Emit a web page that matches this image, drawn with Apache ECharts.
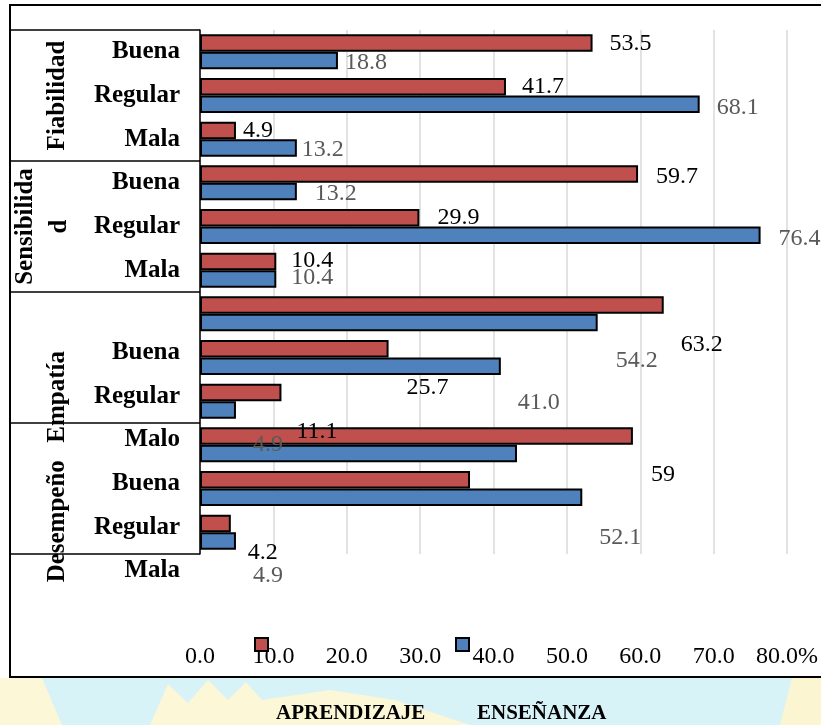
<!DOCTYPE html>
<html>
<head>
<meta charset="utf-8">
<script src="https://cdn.jsdelivr.net/npm/echarts@6/dist/echarts.min.js"></script>
<style>
  html, body { margin: 0; padding: 0; background: #ffffff; }
  #chart { width: 821px; height: 725px; }
</style>
</head>
<body>
<div id="chart"></div>
<script>
// Series names (legend)
const seriesNames = ['APRENDIZAJE', 'ENSEÑANZA'];

// Dimension groups, each spanning three rows of the label column
const dimensionNames = ['Fiabilidad', 'Sensibilida\nd', 'Empatía', 'Desempeño'];

// Bar rows (one pair of bars per row)
const rowKeys = ['r1', 'r2', 'r3', 'r4', 'r5', 'r6', 'r7', 'r8', 'r9', 'r10', 'r11', 'r12'];

// Level labels printed in the label column
const levelLabels = ['Buena', 'Regular', 'Mala', 'Buena', 'Regular', 'Mala', '',
                     'Buena', 'Regular', 'Malo', 'Buena', 'Regular', 'Mala'];

// Percentages, as printed
const aprendizaje = ['53.5', '41.7', '4.9', '59.7', '29.9', '10.4', '63.2', '25.7', '11.1', '59', '36.8', '4.2'];
const ensenanza   = ['18.8', '68.1', '13.2', '13.2', '76.4', '10.4', '54.2', '41.0', '4.9', '43.2', '52.1', '4.9'];

// Rows whose value carries no printed label
const unlabeledAprendizaje = [10];
const unlabeledEnsenanza = [9];

// Axis ticks
const xTicks = [0, 10, 20, 30, 40, 50, 60, 70, 80];

// ---- layout & styling -------------------------------------------------
const FONT = 'Liberation Serif';
const RED = '#C0504D';
const BLUE = '#4F81BD';
const GRID_LEFT = 200, GRID_TOP = 30, GRID_W = 589, GRID_H = 524;
const SLOT = GRID_H / rowKeys.length;

// label shifts [dx, dy] from the bar end
const redLabelShift  = [[17, 1], [16, 0], [7, 0], [18, 3], [18, 0], [15, -1], [17, 40], [18, 39], [15, 39], [18, 39], [0, 0], [17, 29]];
const blueLabelShift = [[7, 2], [17, 3], [5, 2], [18, 2], [18, 3], [15, -1], [18, 38], [17, 36], [17, 35], [0, 0], [17, 40], [17, 35]];

// group label centres, in row units from the top of the plot
const groupCentres = [1.5, 4.5, 8.4, 11.25];
const groupX = [58, 43, 58, 58];

function buildData(values, hidden, shifts, color) {
  return values.map((v, i) => ({
    value: Number(v),
    label: {
      show: hidden.indexOf(i) < 0,
      offset: shifts[i],
      color: color
    }
  }));
}

const chart = echarts.init(document.getElementById('chart'), null, { renderer: 'canvas' });

const graphics = [];
// light strip under the frame
graphics.push({ type: 'rect', z: -10, shape: { x: 0, y: 678, width: 821, height: 47 }, style: { fill: '#d8f3f8' } });
graphics.push({ type: 'polygon', z: -9, shape: { points: [[0, 678], [42, 678], [62, 725], [0, 725]] }, style: { fill: '#fcf7d6' } });
graphics.push({ type: 'polygon', z: -9, shape: { points: [[150, 725], [168, 684], [188, 703], [208, 680], [228, 700], [246, 682], [262, 700], [330, 690], [395, 700], [470, 725]] }, style: { fill: '#fcf7d6' } });
graphics.push({ type: 'polygon', z: -9, shape: { points: [[780, 725], [792, 678], [821, 678], [821, 725]] }, style: { fill: '#fcf5d2' } });
// outer frame
graphics.push({ type: 'rect', z: 5, shape: { x: 10, y: 5, width: 830, height: 672 }, style: { fill: null, stroke: '#000', lineWidth: 2 } });
// label column rules
for (let k = 0; k <= 4; k++) {
  const y = Math.round(GRID_TOP + 3 * k * SLOT);
  graphics.push({ type: 'line', z: 5, shape: { x1: 10, y1: y, x2: GRID_LEFT, y2: y }, style: { stroke: '#000', lineWidth: 1.5 } });
}
// dimension names, reading upwards
dimensionNames.forEach((name, i) => {
  graphics.push({
    type: 'text', z: 6,
    x: groupX[i], y: GRID_TOP + groupCentres[i] * SLOT,
    rotation: Math.PI / 2,
    style: { text: name, x: 0, y: 0, align: 'center', verticalAlign: 'middle',
             font: 'bold 25px "' + FONT + '"', fill: '#000', lineHeight: 34 }
  });
});

const option = {
  backgroundColor: '#ffffff',
  animation: false,
  grid: [
    { left: GRID_LEFT, top: GRID_TOP, width: GRID_W, height: GRID_H },
    { left: GRID_LEFT, top: GRID_TOP, width: 1, height: SLOT * levelLabels.length }
  ],
  xAxis: [
    {
      type: 'value', gridIndex: 0, min: 0, max: 80, interval: 10,
      axisLine: { show: false }, axisTick: { show: false },
      splitLine: { show: true, lineStyle: { color: '#d9d9d9', width: 1.5 } },
      axisLabel: {
        margin: 91, color: '#000', fontFamily: FONT, fontSize: 24,
        formatter: v => (v === xTicks[xTicks.length - 1] ? v.toFixed(1) + '%' : v.toFixed(1))
      }
    },
    { type: 'value', gridIndex: 1, min: 0, max: 1, show: false }
  ],
  yAxis: [
    {
      type: 'category', gridIndex: 0, data: rowKeys, inverse: true,
      axisLine: { show: true, lineStyle: { color: '#000', width: 1.5 } },
      axisTick: { show: false }, axisLabel: { show: false }, splitLine: { show: false }
    },
    {
      type: 'category', gridIndex: 1, data: levelLabels, inverse: true,
      axisLine: { show: false }, axisTick: { show: false }, splitLine: { show: false },
      axisLabel: {
        margin: 20, color: '#000', fontFamily: FONT, fontSize: 25, fontWeight: 'bold',
        formatter: (v, i) => (i >= 7 ? '{u|' + v + '}' : v),
        rich: { u: { fontFamily: FONT, fontSize: 25, fontWeight: 'bold', color: '#000', padding: [0, 0, 10, 0] } }
      }
    }
  ],
  legend: [
    { data: [seriesNames[0]], left: 249, top: 632, icon: 'rect', itemWidth: 13, itemHeight: 13,
      formatter: () => '', selectedMode: false, itemStyle: { borderColor: '#000', borderWidth: 2 } },
    { data: [seriesNames[1]], left: 450, top: 632, icon: 'rect', itemWidth: 13, itemHeight: 13,
      formatter: () => '', selectedMode: false, itemStyle: { borderColor: '#000', borderWidth: 2 } },
    { data: [seriesNames[0]], left: 265, top: 698, icon: 'rect', itemWidth: 0, itemHeight: 0, selectedMode: false,
      textStyle: { fontFamily: FONT, fontSize: 21, fontWeight: 'bold', color: '#000' } },
    { data: [seriesNames[1]], left: 466, top: 698, icon: 'rect', itemWidth: 0, itemHeight: 0, selectedMode: false,
      textStyle: { fontFamily: FONT, fontSize: 21, fontWeight: 'bold', color: '#000' } }
  ],
  series: [
    {
      name: seriesNames[0], type: 'bar', xAxisIndex: 0, yAxisIndex: 0,
      barCategoryGap: '20%', barGap: '0%',
      itemStyle: { color: RED, borderColor: '#000', borderWidth: 2 },
      label: { show: true, position: 'right', distance: 0, fontFamily: FONT, fontSize: 24,
               formatter: p => aprendizaje[p.dataIndex] },
      data: buildData(aprendizaje, unlabeledAprendizaje, redLabelShift, '#000')
    },
    {
      name: seriesNames[1], type: 'bar', xAxisIndex: 0, yAxisIndex: 0,
      barCategoryGap: '20%', barGap: '0%',
      itemStyle: { color: BLUE, borderColor: '#000', borderWidth: 2 },
      label: { show: true, position: 'right', distance: 0, fontFamily: FONT, fontSize: 24,
               formatter: p => ensenanza[p.dataIndex] },
      data: buildData(ensenanza, unlabeledEnsenanza, blueLabelShift, '#595959')
    }
  ],
  graphic: graphics
};

chart.setOption(option);
</script>
</body>
</html>
